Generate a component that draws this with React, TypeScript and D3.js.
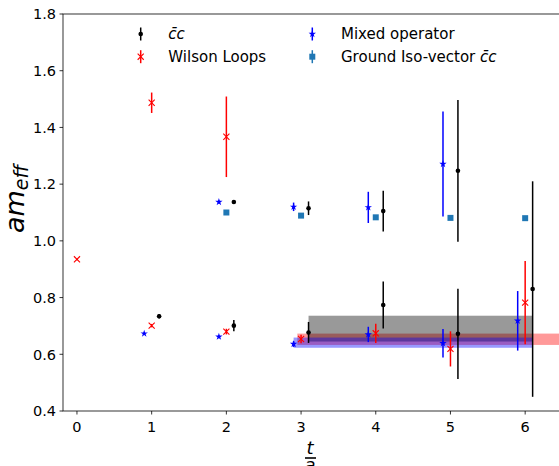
import * as d3 from 'd3';

const W = 559;
const H = 466;

// c-bar-c: ground-state points then excited-state points
const ccT = [1.1, 2.1, 3.1, 4.1, 5.1, 6.1, 2.1, 3.1, 4.1, 5.1];
const ccY = [0.734, 0.701, 0.677, 0.774, 0.672, 0.83, 1.137, 1.115, 1.105, 1.247];
const ccErr = [0.008, 0.02, 0.037, 0.083, 0.159, 0.38, 0.006, 0.024, 0.072, 0.25];

// Wilson loops
const wlT = [0, 1, 2, 3, 4, 5, 6, 1, 2];
const wlY = [0.935, 0.701, 0.68, 0.654, 0.674, 0.619, 0.782, 1.487, 1.367];
const wlErr = [0.003, 0.006, 0.01, 0.015, 0.034, 0.062, 0.147, 0.036, 0.142];

// mixed operator
const mxT = [0.9, 1.9, 2.9, 3.9, 4.9, 5.9, 1.9, 2.9, 3.9, 4.9];
const mxY = [0.673, 0.662, 0.636, 0.67, 0.639, 0.718, 1.137, 1.12, 1.118, 1.271];
const mxErr = [0.004, 0.004, 0.01, 0.027, 0.05, 0.105, 0.005, 0.015, 0.055, 0.185];

// ground iso-vector c-bar-c
const isoT = [2, 3, 4, 5, 6];
const isoY = [1.1, 1.089, 1.083, 1.081, 1.08];
const isoErr = [0.003, 0.003, 0.003, 0.003, 0.003];

// fit bands (drawn in this order)
const bandT0 = [2.95, 3.1, 2.9];
const bandT1 = [7, 6.1, 6.1];
const bandLo = [0.633, 0.645, 0.623];
const bandHi = [0.673, 0.736, 0.659];
const bandColor = ['#ff0000', '#000000', '#0000ff'];

const xTicks = [0, 1, 2, 3, 4, 5, 6];
const yTicks = [0.4, 0.6, 0.8, 1.0, 1.2, 1.4, 1.6, 1.8];

const plot = { left: 63, right: 559, top: 14, bottom: 411 };

const x = d3.scaleLinear().domain([-0.187, 6.453]).range([plot.left, plot.right]);
const y = d3.scaleLinear().domain([0.4, 1.8]).range([plot.bottom, plot.top]);

const font = 'DejaVu Sans, sans-serif';

function Marker({ kind, color, cx, cy }) {
  if (kind === 'dot') return <circle cx={cx} cy={cy} r={2.3} fill={color} />;
  if (kind === 'x') {
    const p = d3.symbol(d3.symbolX, 26)();
    return <path d={p} transform={`translate(${cx},${cy})`} fill="none" stroke={color} strokeWidth={1.1} />;
  }
  const type = kind === 'star' ? d3.symbolStar : d3.symbolSquare;
  const size = kind === 'star' ? 17 : 36;
  return <path d={d3.symbol(type, size)()} transform={`translate(${cx},${cy})`} fill={color} />;
}

function ErrorSeries({ t, v, err, color, marker }) {
  return (
    <g>
      {t.map((tt, i) => (
        <g key={i}>
          <line x1={x(tt)} x2={x(tt)} y1={y(v[i] - err[i])} y2={y(v[i] + err[i])} stroke={color} strokeWidth={1.5} />
          <Marker kind={marker} color={color} cx={x(tt)} cy={y(v[i])} />
        </g>
      ))}
    </g>
  );
}

function LegendItem({ hx, tx, cy, color, marker, children }) {
  return (
    <g>
      <line x1={hx} x2={hx} y1={cy - 6.5} y2={cy + 6.5} stroke={color} strokeWidth={1.5} />
      <Marker kind={marker} color={color} cx={hx} cy={cy} />
      <text x={tx} y={cy + 5.3} fontSize={15} fontFamily={font}>
        {children}
      </text>
    </g>
  );
}

export default function App() {
  return (
    <div style={{ position: 'absolute', left: 0, top: 0 }}>
      <svg width={W} height={H} style={{ display: 'block', background: '#fff' }}>
        <defs>
          <clipPath id="plotClip">
            <rect x={plot.left} y={plot.top} width={plot.right - plot.left} height={plot.bottom - plot.top} />
          </clipPath>
        </defs>

        <g clipPath="url(#plotClip)">
          {bandT0.map((t0, i) => (
            <rect
              key={i}
              x={x(t0)}
              width={x(bandT1[i]) - x(t0)}
              y={y(bandHi[i])}
              height={y(bandLo[i]) - y(bandHi[i])}
              fill={bandColor[i]}
              fillOpacity={0.4}
            />
          ))}
          <ErrorSeries t={ccT} v={ccY} err={ccErr} color="#000000" marker="dot" />
          <ErrorSeries t={wlT} v={wlY} err={wlErr} color="#ff0000" marker="x" />
          <ErrorSeries t={mxT} v={mxY} err={mxErr} color="#0000ff" marker="star" />
          <ErrorSeries t={isoT} v={isoY} err={isoErr} color="#1f77b4" marker="square" />
        </g>

        {/* frame */}
        <rect
          x={plot.left}
          y={plot.top}
          width={plot.right - plot.left + 2}
          height={plot.bottom - plot.top}
          fill="none"
          stroke="#000"
          strokeWidth={0.8}
        />

        {xTicks.map((t) => (
          <g key={t}>
            <line x1={x(t)} x2={x(t)} y1={plot.bottom} y2={plot.bottom + 3.5} stroke="#000" strokeWidth={0.8} />
            <text x={x(t)} y={432} textAnchor="middle" fontSize={14.5} fontFamily={font}>
              {t}
            </text>
          </g>
        ))}
        {yTicks.map((v) => (
          <g key={v}>
            <line x1={plot.left - 3.5} x2={plot.left} y1={y(v)} y2={y(v)} stroke="#000" strokeWidth={0.8} />
            <text x={56} y={y(v)} dy="0.36em" textAnchor="end" fontSize={14.5} fontFamily={font}>
              {v.toFixed(1)}
            </text>
          </g>
        ))}

        {/* y label */}
        <text transform="translate(24,233) rotate(-90)" fontSize={27} fontFamily={font} fontStyle="italic">
          am
          <tspan fontSize={19} dy={4}>
            eff
          </tspan>
        </text>

        {/* x label: t over a */}
        <text x={310} y={454} textAnchor="middle" fontSize={18} fontFamily={font} fontStyle="italic">
          t
        </text>
        <line x1={305} x2={316} y1={458} y2={458} stroke="#000" strokeWidth={1.6} />
        <text x={310} y={471} textAnchor="middle" fontSize={18} fontFamily={font} fontStyle="italic">
          a
        </text>

        <LegendItem hx={140.7} tx={168.3} cy={34} color="#000000" marker="dot">
          <tspan fontStyle="italic">c̄c</tspan>
        </LegendItem>
        <LegendItem hx={140.7} tx={168.3} cy={56.7} color="#ff0000" marker="x">
          Wilson Loops
        </LegendItem>
        <LegendItem hx={312.3} tx={341} cy={34} color="#0000ff" marker="star">
          Mixed operator
        </LegendItem>
        <LegendItem hx={312.3} tx={341} cy={56.7} color="#1f77b4" marker="square">
          Ground Iso-vector <tspan fontStyle="italic">c̄c</tspan>
        </LegendItem>
      </svg>
    </div>
  );
}
